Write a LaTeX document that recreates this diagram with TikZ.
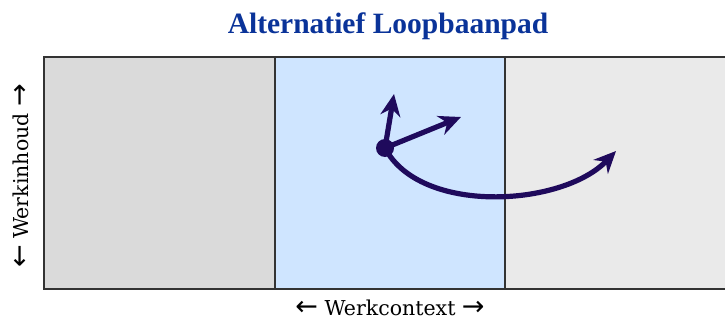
\documentclass[tikz,border=0pt]{standalone}
\usepackage{fontspec}
\setmainfont{Liberation Serif}
\newfontfamily\labelfont{DejaVu Serif}
\newfontfamily\pijlfont{DejaVu Sans}
\usetikzlibrary{arrows.meta}

\definecolor{titelblauw}{RGB}{10,51,153}
\definecolor{padkleur}{RGB}{31,10,92}
\definecolor{vakgrijs}{RGB}{218,218,218}
\definecolor{vaklicht}{RGB}{234,234,234}
\definecolor{vakblauw}{RGB}{207,229,255}

\newcommand{\lpijl}{{\fontsize{27}{27}\selectfont\pijlfont ←}}
\newcommand{\rpijl}{{\fontsize{27}{27}\selectfont\pijlfont →}}

\begin{document}
\begin{tikzpicture}[x = 1pt, y = 1pt,
                > = {Stealth[length=22pt, width=20pt]}, % arrow head style
                line width = 5.2pt % path line style
            ]

            \tikzstyle{pad}=[draw = padkleur, ->, line cap = round]
            \tikzstyle{rand}=[draw = black!80, line width = 1.8pt]
            \tikzstyle{label}=[inner sep = 0pt, anchor = base, font =
            \fontsize{20.5}{20.5}\selectfont\labelfont]

            \useasboundingbox (0,0) rectangle (725,322);

            % three work contexts
            \fill[vakgrijs] (44,33) rectangle (275,265);
            \fill[vakblauw] (275,33) rectangle (505,265);
            \fill[vaklicht] (505,33) rectangle (725,265);
            \draw[rand] (725,265) -- (44,265) -- (44,33) -- (725,33);
            \draw[rand] (275,265) -- (275,33); \draw[rand] (505,265) --
            (505,33);

            % labels
            \node (titel) at (388,296) [inner sep = 0pt, text = titelblauw,
                font = \fontsize{29.5}{29.5}\selectfont\bfseries] {Alternatief
                Loopbaanpad};
            \node (inhoud) at (28,146) [label, rotate = 90] {\lpijl\
                Werkinhoud \rpijl};
            \node (context) at (390,7) [label] {\lpijl\ Werkcontext \rpijl};

            % career path
            \node (start) at (385,174) [circle, fill = padkleur, inner sep = 0pt,
                minimum size = 18pt] {};
            \coordinate (omhoog) at (394,228); \coordinate (schuin) at
            (461,205); \coordinate (overstap) at (616,171);

            \draw[pad] (start.center) -- (omhoog); \draw[pad] (start.center) --
            (schuin); \draw[pad] (start.center) .. controls (420,107) and
            (562,115) .. (overstap);
\end{tikzpicture}
\end{document}
